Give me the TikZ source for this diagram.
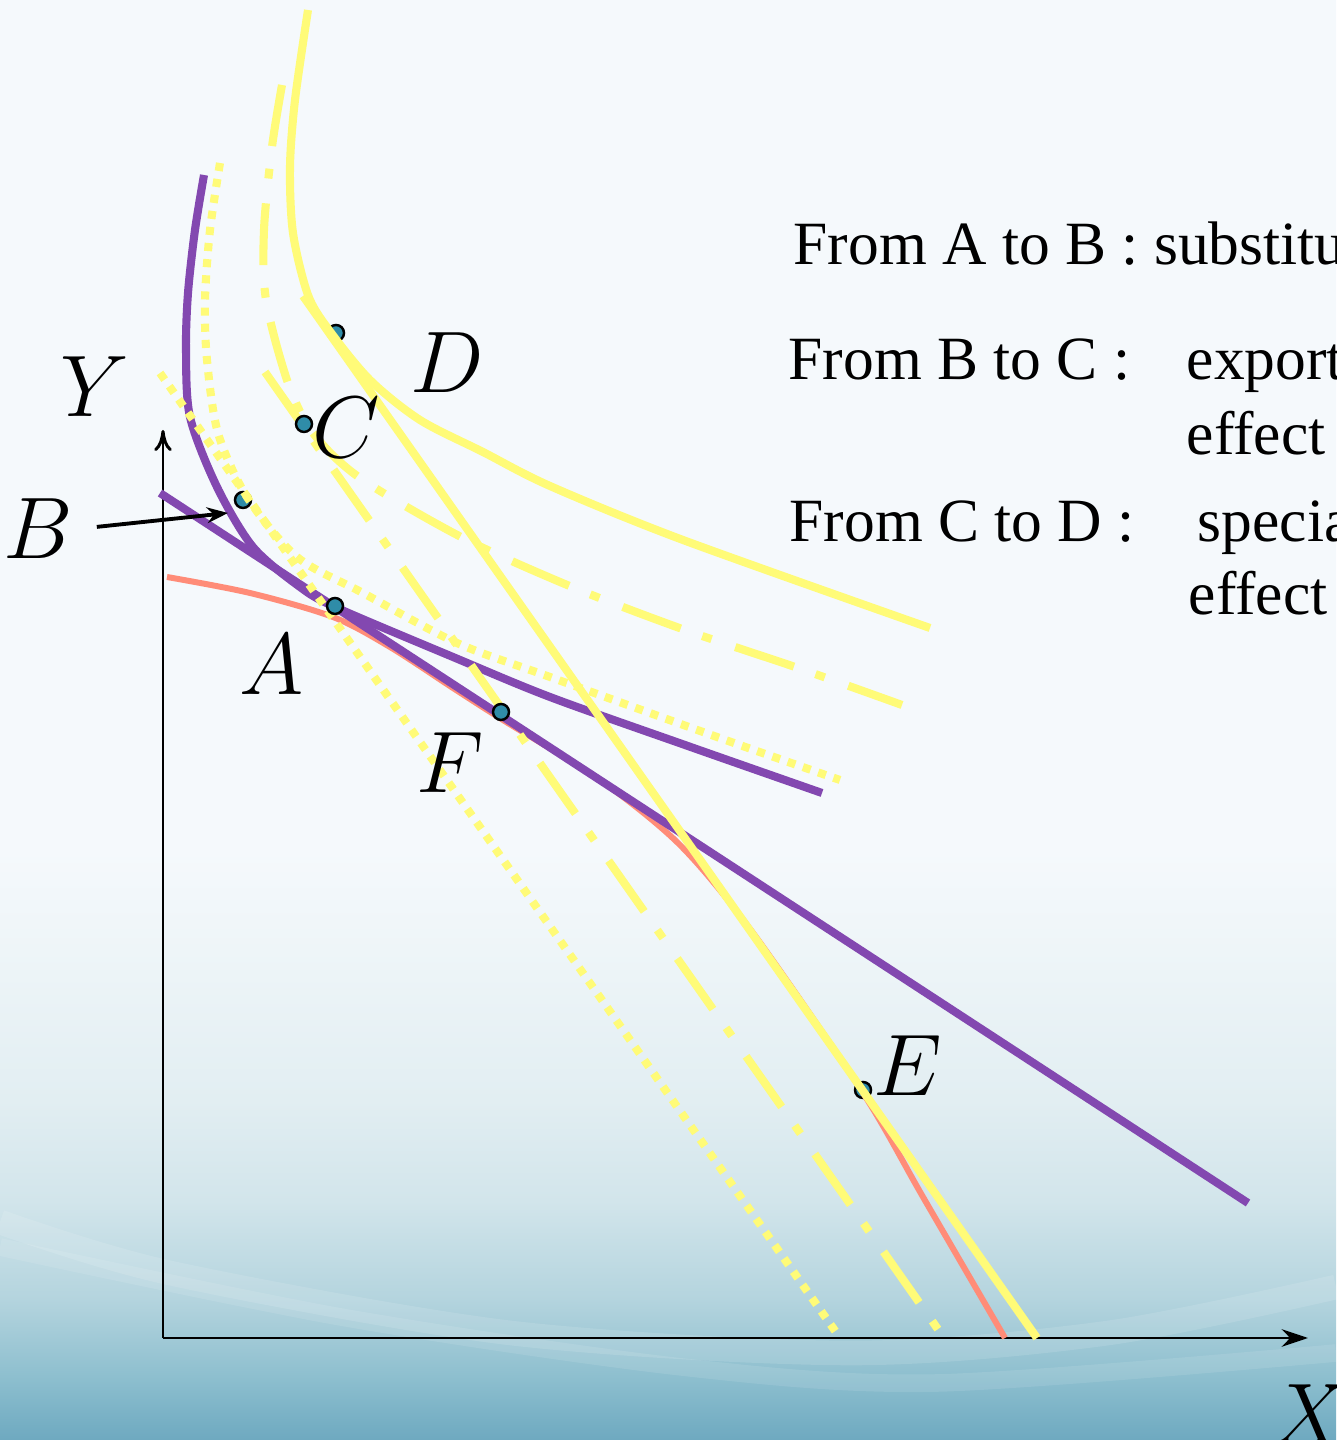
\documentclass[tikz,border=0pt]{standalone}
\usepackage{amsmath,amssymb}
\usepackage{xcolor}
\usepackage{fontspec}
\newfontfamily\garafont{Liberation Serif}
\usepackage{tikz}
\usetikzlibrary{arrows.meta,positioning,calc}

\definecolor{icpurple}{HTML}{8348B0}
\definecolor{shiftyel}{HTML}{FFFB78}
\definecolor{ppfred}{HTML}{FF8C78}
\definecolor{dotteal}{HTML}{2F8CA8}
\definecolor{sea0}{HTML}{6EA9C0}
\definecolor{sea1}{HTML}{8CBECE}
\definecolor{sea2}{HTML}{B4D4DE}
\definecolor{sea3}{HTML}{D2E5EB}
\definecolor{sea4}{HTML}{E2EEF2}
\definecolor{sea5}{HTML}{EEF5F8}
\definecolor{sea6}{HTML}{F5F9FC}
\pgfdeclareverticalshading{seawash}{100bp}{color(0bp)=(sea0); color(25bp)=(sea0); color(27.1bp)=(sea1); color(29.9bp)=(sea2); color(33.3bp)=(sea3); color(36.8bp)=(sea4); color(42bp)=(sea5); color(45.5bp)=(sea6); color(100bp)=(sea6)}

\begin{document}
\begin{tikzpicture}[>=Stealth,
    lbl/.style={font=\fontsize{25}{30}\selectfont, inner sep=1pt},
    txt/.style={font=\garafont\fontsize{17.5}{21}\selectfont, anchor=base west, inner sep=0pt},
    eqpt/.style={circle, draw=black, line width=0.7pt, fill=dotteal, minimum size=0.16cm, inner sep=0pt},
    yel/.style={shiftyel, line width=2.3pt},
    ydotted/.style={yel, dash pattern=on 2.3pt off 2.3pt},
    ydashdot/.style={yel, dash pattern=on 17.6pt off 6.5pt on 2.8pt off 7.1pt},
    purp/.style={icpurple, line width=2.3pt}]
    \useasboundingbox (0,0) rectangle (13.36,14.4);
    \clip (0,0) rectangle (13.36,14.4);
    \shade[shading=seawash] (0,0) rectangle (13.36,14.4);
    \draw[white, opacity=0.12, line width=7pt] plot[smooth] coordinates {(0,2.18) (1.70,1.67) (5.11,1.07) (8.52,0.87) (11.08,1.07) (13.36,1.53)};
    \draw[white, opacity=0.1, line width=5pt] plot[smooth] coordinates {(0,1.93) (3.41,1.23) (6.82,0.73) (9.37,0.57) (13.36,0.87)};

    \coordinate (O) at (1.63,1.02);
    \draw[line width=0.85pt, -{Stealth[length=7.5pt,width=5pt]}] (O) -- (13.08,1.02);
    \draw[line width=0.85pt, -{To[length=6pt,width=5pt]}] (O) -- (1.63,10.10);

    \foreach \n/\x/\y in {B/2.43/9.40, D/3.36/11.07, E/8.63/3.50}
        \node[eqpt] (pt\n) at (\x,\y) {};

    \draw[ppfred, line width=1.7pt] plot[smooth] coordinates {(1.67,8.63) (2.50,8.47) (3.33,8.23) (3.90,7.93) (4.53,7.52) (5.03,7.20) (6.00,6.60) (6.80,5.95) (7.53,5.07) (8.63,3.47) (9.23,2.43) (10.05,1.02)};

    \draw[purp] (1.60,9.47) -- (12.48,2.37);
    \draw[purp] plot[smooth] coordinates {(2.04,12.65) (1.95,12.10) (1.88,11.47) (1.86,10.90) (1.90,10.23) (2.17,9.53) (2.53,8.93) (3.00,8.53) (3.35,8.33) (4.53,7.83) (5.50,7.43) (6.85,6.95) (8.22,6.47)};

    \draw[ydotted] (1.60,10.67) -- (8.38,1.05);
    \draw[ydotted] plot[smooth] coordinates {(2.20,12.77) (2.10,12.10) (2.05,11.40) (2.07,10.80) (2.18,10.07) (2.47,9.43) (2.97,8.83) (3.63,8.47) (4.57,7.97) (5.50,7.63) (7.17,7.03) (8.40,6.60)};
    \draw[ydashdot] (2.65,10.68) -- (9.42,1.05);
    \draw[ydashdot] plot[smooth] coordinates {(2.82,13.55) (2.72,12.93) (2.64,12.10) (2.66,11.40) (2.88,10.57) (3.13,10.07) (3.60,9.62) (4.63,9.02) (5.72,8.53) (6.85,8.10) (7.98,7.72) (9.02,7.35)};
    \draw[yel] (3.03,11.44) -- (10.37,1.02);
    \draw[yel] plot[smooth] coordinates {(3.08,14.30) (2.95,13.40) (2.90,12.73) (2.93,12.07) (3.08,11.45) (3.29,11.10) (3.70,10.60) (4.20,10.20) (4.83,9.88) (5.50,9.54) (6.83,9.00) (9.30,8.12)};

    \foreach \n/\x/\y in {A/3.35/8.34, F/5.01/7.28, C/3.04/10.16}
        \node[eqpt] (pt\n) at (\x,\y) {};

    \foreach \n/\x/\y in {A/2.72/7.75, B/0.38/9.11, C/3.46/10.12, D/4.47/10.77, E/9.08/3.74, F/4.50/6.77, Y/0.95/10.53, X/13.10/0.25}
        \node[lbl] (lab\n) at (\x,\y) {$\n$};
    \coordinate (tipB) at (2.28,9.27);
    \draw[line width=1.1pt, -{Stealth[length=6pt,width=4.5pt]}, shorten <=0.2cm] (labB.east) -- (tipB);

    \node[txt] (lineAB) at (7.93,11.75) {From A to B : substitu};
    \node[txt] (lineBC) at (7.88,10.60) {From B to C :};
    \node[txt] (expBC) at (11.86,10.60) {export};
    \node[txt] (effBC) at ([yshift=-0.75cm]expBC.base west) {effect};
    \node[txt] (lineCD) at (7.89,8.98) {From C to D :};
    \node[txt] (specCD) at (11.97,8.98) {specia};
    \node[txt] (effCD) at ([yshift=-0.73cm,xshift=-0.09cm]specCD.base west) {effect};
\end{tikzpicture}
\end{document}
